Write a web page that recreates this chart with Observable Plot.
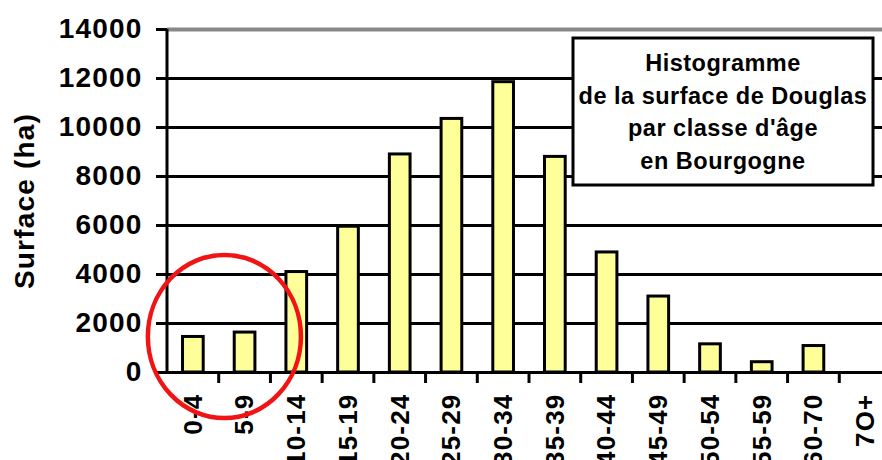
<!DOCTYPE html>
<html><head><meta charset="utf-8">
<script src="https://cdn.jsdelivr.net/npm/d3@7"></script>
<script src="https://cdn.jsdelivr.net/npm/@observablehq/plot@0.6"></script>
<style>body{margin:0;background:#fff}</style>
</head><body><div id="chart"></div>
<script>
const categories = ["0-4","5-9","10-14","15-19","20-24","25-29","30-34","35-39","40-44","45-49","50-54","55-59","60-70","7O+"];
const surfaces = [1450,1630,4100,5950,8900,10350,11850,8800,4900,3100,1150,420,1080,0];
const yTicks = [0,2000,4000,6000,8000,10000,12000,14000];
const yLabel = "Surface (ha)";
const titleLines = ["Histogramme","de la surface de Douglas","par classe d'âge","en Bourgogne"];
const highlightCategories = ["0-4","5-9"];
const highlightCenterValue = 1450;
const highlightRadiusValue = 3330;

const data = categories.map((c, i) => ({cat: c, value: surfaces[i]}));
const FONT = "'Liberation Sans', Arial, Helvetica, sans-serif";

function decorations(index, scales, values, dims) {
  const x = scales.x, y = scales.y;
  const step = x(categories[1]) - x(categories[0]);
  const bw = typeof x.bandwidth === "function" ? x.bandwidth() : step * 0.4;
  const half = (step - bw) / 2;
  const y0 = y(0), yTop = y(yTicks[yTicks.length - 1]);
  const left = x(categories[0]) - half;
  const g = d3.create("svg:g");
  categories.forEach((c, i) => {
    if (i === 0) return;
    const bx = x(c) - half;
    g.append("line").attr("x1", bx).attr("x2", bx).attr("y1", y0).attr("y2", y0 + 11)
      .attr("stroke", "black").attr("stroke-width", 3);
  });
  g.append("line").attr("x1", left).attr("x2", left).attr("y1", yTop).attr("y2", y0 + 2)
    .attr("stroke", "black").attr("stroke-width", 3);
  const cA = x(highlightCategories[0]) + bw / 2, cB = x(highlightCategories[1]) + bw / 2;
  g.append("ellipse")
    .attr("cx", (cA + cB) / 2 + 0.11 * step)
    .attr("cy", y(highlightCenterValue))
    .attr("rx", 1.48 * step)
    .attr("ry", y(0) - y(highlightRadiusValue))
    .attr("fill", "none").attr("stroke", "#f01414").attr("stroke-width", 4.5);
  const boxW = 300, boxH = 147;
  const bx = dims.width - 9 - boxW, by = dims.marginTop + 9;
  g.append("rect").attr("x", bx).attr("y", by).attr("width", boxW).attr("height", boxH)
    .attr("fill", "white").attr("stroke", "black").attr("stroke-width", 3);
  const t = g.append("text").attr("text-anchor", "middle").attr("font-size", 23.5)
    .attr("font-weight", "bold").attr("font-family", FONT).attr("fill", "black")
    .attr("letter-spacing", "0.5px");
  titleLines.forEach((line, i) => {
    t.append("tspan").attr("x", bx + boxW / 2).attr("y", by + 33 + i * 32.5).text(line);
  });
  return g.node();
}

const chart = Plot.plot({
  width: 882,
  height: 460,
  marginLeft: 167,
  marginRight: 0,
  marginTop: 29,
  marginBottom: 88,
  style: {fontFamily: FONT, fontWeight: "bold", background: "white", color: "black", letterSpacing: "1.2px"},
  x: {domain: categories, range: [167, 891], paddingInner: 0.6, paddingOuter: 0.3, round: false},
  y: {domain: [0, 14000]},
  marks: [
    Plot.ruleY(yTicks.filter(v => v > 0 && v < 14000), {stroke: "black", strokeWidth: 3}),
    Plot.ruleY([14000], {stroke: "#888", strokeWidth: 4}),
    Plot.barY(data, {x: "cat", y: "value", fill: "#ffff99", stroke: "black", strokeWidth: 3}),
    Plot.ruleY([0], {stroke: "black", strokeWidth: 3}),
    Plot.axisY({ticks: yTicks, tickSize: 11, tickPadding: 14, tickFormat: d => String(d), strokeWidth: 3, label: null, fontSize: 28, fontWeight: "bold"}),
    Plot.axisX({tickRotate: -90, tickSize: 0, tickPadding: 21, label: null, fontSize: 26, fontWeight: "bold"}),
    Plot.text([yLabel], {text: d => d, frameAnchor: "left", textAnchor: "middle", rotate: -90, dx: -142, fontSize: 28, fontWeight: "bold"}),
    decorations
  ]
});
document.getElementById("chart").appendChild(chart);
</script>
</body></html>
